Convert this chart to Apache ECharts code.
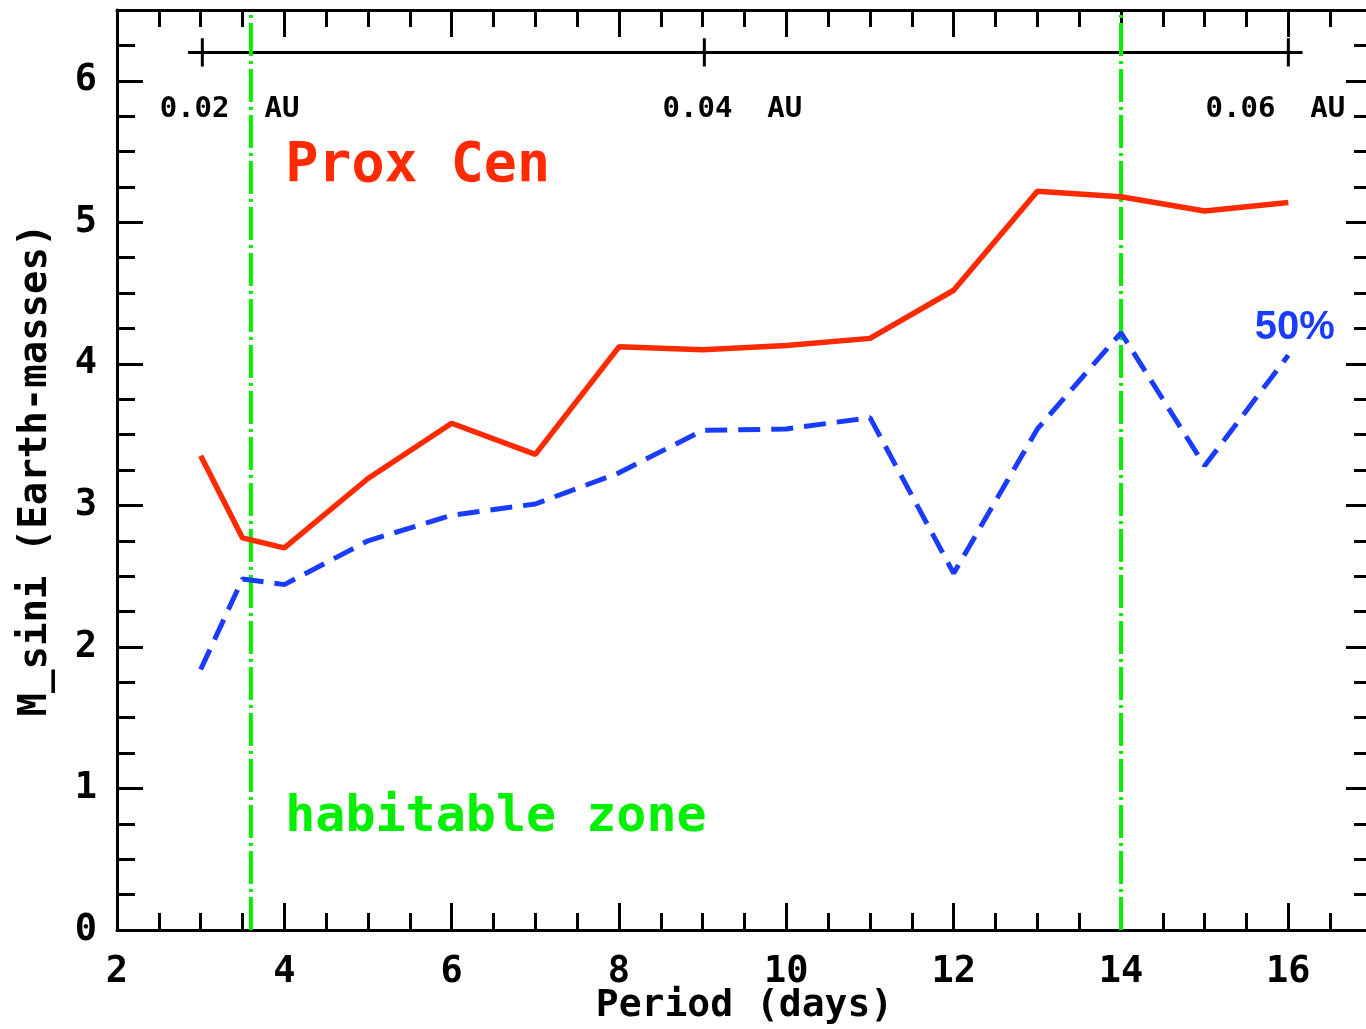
<!DOCTYPE html>
<html>
<head>
<meta charset="utf-8">
<title>Prox Cen detection limits</title>
<script src="https://cdn.jsdelivr.net/npm/echarts@6/dist/echarts.min.js"></script>
<style>
  html, body { margin: 0; padding: 0; background: #fff; overflow: hidden; }
  #chart { width: 1366px; height: 1029px; }
</style>
</head>
<body>
<div id="chart"></div>
<script>
// Orbital periods (days) at which the detection limits were computed
const periods = [3, 3.5, 4, 5, 6, 7, 8, 9, 10, 11, 12, 13, 14, 15, 16];
// Minimum mass (Earth masses) for Proxima Centauri
const proxCen = [3.35, 2.77, 2.70, 3.19, 3.58, 3.36, 4.12, 4.10, 4.13, 4.18, 4.52, 5.22, 5.18, 5.08, 5.14];
// 50% recovery limit
const limit50 = [1.84, 2.48, 2.44, 2.75, 2.93, 3.01, 3.23, 3.53, 3.54, 3.62, 2.52, 3.54, 4.22, 3.28, 4.06];
// Habitable zone edges (days)
const hzEdges = [3.6, 14];
// Semi-major axis scale: period of each marked distance
const auPeriods = [3.02, 9.02, 16.0];
const auLabels = ['0.02  AU', '0.04  AU', '0.06  AU'];
const auSpan = [2.85, 16.17];
const auLevel = 6.2;

const MONO = "'DejaVu Sans Mono', 'Liberation Mono', monospace";
const RED = '#ff2a00';
const BLUE = '#1a3cff';
const GREEN = '#00f000';

const tickStyle = { color: '#000', width: 3 };

function xAxisCfg(pos, showLabels) {
  return {
    type: 'value', position: pos, min: 2, max: 17, interval: 2,
    axisLine: { show: true, onZero: false, lineStyle: { color: '#000', width: 3 } },
    axisTick: { show: true, inside: true, length: 27, lineStyle: tickStyle },
    minorTick: { show: true, splitNumber: 4, length: 17, lineStyle: tickStyle },
    splitLine: { show: false },
    axisLabel: {
      show: showLabels, margin: 24, color: '#000',
      fontFamily: MONO, fontWeight: 'bold', fontSize: 37,
      formatter: v => (v > 16 ? '' : String(v))
    },
    name: showLabels ? 'Period (days)' : '',
    nameLocation: 'middle', nameGap: 57, nameMoveOverlap: false,
    nameTextStyle: { color: '#000', fontFamily: MONO, fontWeight: 'bold', fontSize: 38 }
  };
}

function yAxisCfg(pos, showLabels) {
  return {
    type: 'value', position: pos, min: 0, max: 6.5, interval: 1,
    axisLine: { show: true, onZero: false, lineStyle: { color: '#000', width: 3 } },
    axisTick: { show: true, inside: true, length: 26, lineStyle: tickStyle },
    minorTick: { show: true, splitNumber: 4, length: 18, lineStyle: tickStyle },
    splitLine: { show: false },
    axisLabel: {
      show: showLabels, margin: 20, color: '#000',
      fontFamily: MONO, fontWeight: 'bold', fontSize: 37,
      formatter: v => (v > 6 ? '' : String(v))
    },
    name: showLabels ? 'M_sini (Earth-masses)' : '',
    nameLocation: 'middle', nameRotate: 90, nameGap: 62, nameMoveOverlap: false,
    nameTextStyle: { color: '#000', fontFamily: MONO, fontWeight: 'bold', fontSize: 39 }
  };
}

function textMark(x, y, text, style) {
  return {
    type: 'scatter', symbolSize: 0, silent: true, z: 5,
    itemStyle: { opacity: 1 },
    data: [[x, y]],
    label: Object.assign({
      show: true, position: [0, 0], align: 'left', verticalAlign: 'middle',
      formatter: text
    }, style)
  };
}

const series = [];

// Semi-major axis scale bar
series.push({
  type: 'line', symbol: 'none', silent: true,
  data: [[auSpan[0], auLevel], [auSpan[1], auLevel]],
  lineStyle: { color: '#000', width: 3 }
});
auPeriods.forEach(p => {
  series.push({
    type: 'line', symbol: 'none', silent: true,
    data: [[p, auLevel - 0.1], [p, auLevel + 0.1]],
    lineStyle: { color: '#000', width: 3 }
  });
});
const auLabelX = [2.51, 8.52, 15.01];
auLabels.forEach((t, i) => {
  series.push(textMark(auLabelX[i], 5.8, t, {
    color: '#000', fontFamily: MONO, fontWeight: 'bold', fontSize: 29
  }));
});

// Habitable zone boundaries
hzEdges.forEach(p => {
  series.push({
    type: 'line', symbol: 'none', silent: true, z: 3,
    data: [[p, 0], [p, 6.5]],
    lineStyle: { color: GREEN, width: 4, type: [33, 5, 3, 5] }
  });
});

// Detection limit curves
series.push({
  type: 'line', name: 'Prox Cen', symbol: 'none', z: 4,
  data: periods.map((p, i) => [p, proxCen[i]]),
  lineStyle: { color: RED, width: 5.5 }
});
series.push({
  type: 'line', name: '50%', symbol: 'none', z: 4,
  data: periods.map((p, i) => [p, limit50[i]]),
  lineStyle: { color: BLUE, width: 5, type: [22, 11] }
});

// Annotations
series.push(textMark(4.01, 5.39, 'Prox Cen', {
  color: RED, fontFamily: MONO, fontWeight: 'bold', fontSize: 55
}));
series.push(textMark(4.01, 0.79, 'habitable zone', {
  color: GREEN, fontFamily: MONO, fontWeight: 'bold', fontSize: 50
}));
series.push(textMark(15.6, 4.25, '50%', {
  color: BLUE, fontFamily: "'Liberation Sans', Arial, sans-serif", fontWeight: 'bold', fontSize: 40
}));

const chart = echarts.init(document.getElementById('chart'), null, { renderer: 'canvas' });
chart.setOption({
  animation: false,
  backgroundColor: '#fff',
  grid: { left: 117, right: -6, top: 10, bottom: 99, containLabel: false, outerBoundsMode: 'none' },
  xAxis: [xAxisCfg('bottom', true), xAxisCfg('top', false)],
  yAxis: [yAxisCfg('left', true), yAxisCfg('right', false)],
  series: series
});
</script>
</body>
</html>
